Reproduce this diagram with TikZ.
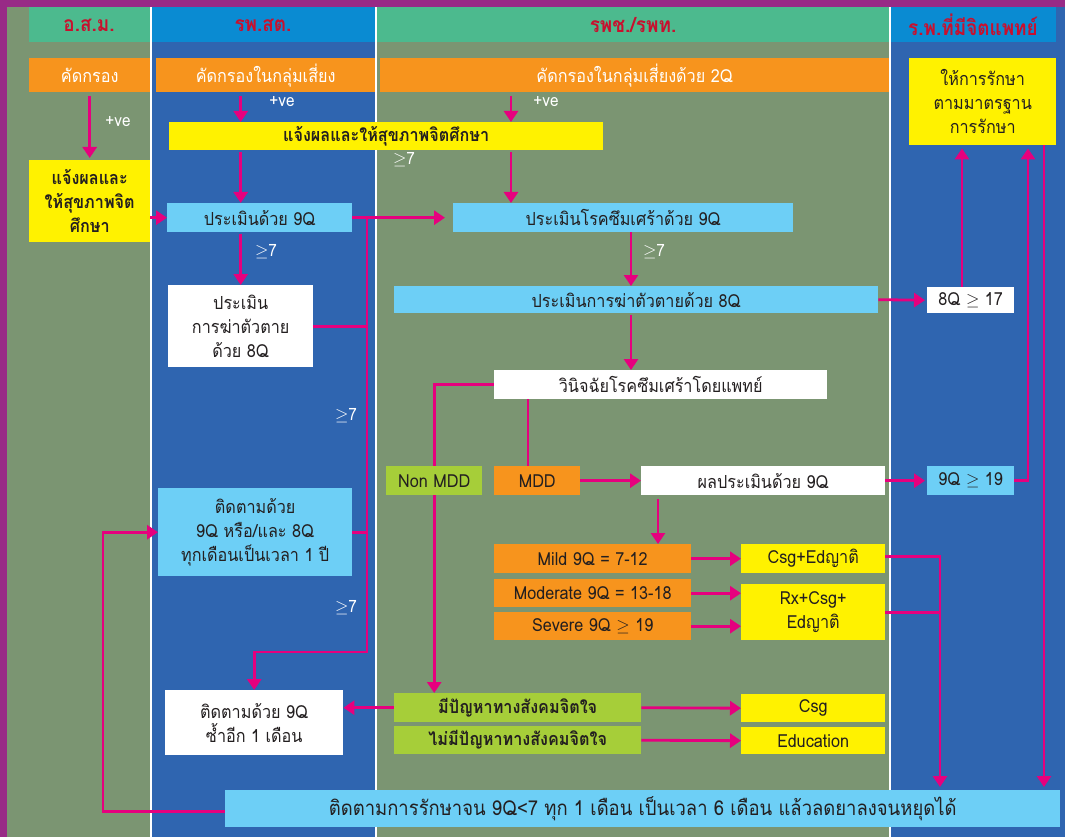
\documentclass[tikz,border=0pt]{standalone}
\usepackage{fontspec}
\newfontfamily\thai[Script=Thai, FakeStretch=0.9]{Loma}
\usetikzlibrary{arrows.meta}
\definecolor{pinkline}{HTML}{E6007E}
\definecolor{orangefill}{HTML}{F7941D}
\definecolor{yellowfill}{HTML}{FFF200}
\definecolor{bluefill}{HTML}{6DCFF6}
\definecolor{greenfill}{HTML}{A6CE39}
\definecolor{olivebg}{HTML}{7B9572}
\definecolor{bluebg}{HTML}{2F65B0}
\definecolor{headgreen}{HTML}{4CBA8E}
\definecolor{headblue}{HTML}{0A8BD2}
\definecolor{headtext}{HTML}{C8102E}
\definecolor{frame}{HTML}{982A86}
\definecolor{darktext}{HTML}{231F20}

\pgfdeclarelayer{back}
\pgfdeclarelayer{wires}
\pgfsetlayers{back,wires,main}

\tikzset{
  box/.style={anchor=north west, inner sep=0pt, align=center,
    font=\thai\fontsize{18}{24}\selectfont, text=darktext},
  boldbox/.style={font=\thai\bfseries\fontsize{18}{24}\selectfont},
  orangebox/.style={box, fill=orangefill},
  yellowbox/.style={box, fill=yellowfill},
  bluebox/.style={box, fill=bluefill},
  whitebox/.style={box, fill=white},
  greenbox/.style={box, fill=greenfill},
  link/.style={draw=pinkline, line width=2.8pt},
  flow/.style={link, -{Triangle[width=14pt,length=11pt]}},
  note/.style={text=white, font=\thai\fontsize{17}{19}\selectfont},
  titletext/.style={font=\thai\bfseries\fontsize{21}{23}\selectfont, text=headtext}
}

\begin{document}
\begin{tikzpicture}[x=1pt, y=-1pt]
  % Columns
  \begin{pgfonlayer}{back}
    \fill[frame] (0,0) rectangle (1065,837);
    \fill[olivebg] (7,7) rectangle (150,837);
    \fill[white] (150,7) rectangle (152,837);
    \fill[bluebg] (152,7) rectangle (375,837);
    \fill[white] (375,7) rectangle (377,837);
    \fill[olivebg] (377,7) rectangle (889,837);
    \fill[white] (889,7) rectangle (891,837);
    \fill[bluebg] (891,7) rectangle (1065,837);
    \fill[headgreen] (29,7) rectangle (150,42);
    \fill[headblue] (152,7) rectangle (375,42);
    \fill[headgreen] (377,7) rectangle (889,42);
    \fill[headblue] (891,7) rectangle (1056,42);
  \end{pgfonlayer}

  % Column titles
  \node[titletext] (title1) at (89,25) {อ.ส.ม.};
  \node[titletext] (title2) at (263,25) {รพ.สต.};
  \node[titletext] (title3) at (633,25) {รพช./รพท.};
  \node[titletext] (title4) at (973,25) {ร.พ.ที่มีจิตแพทย์};

  % Boxes
  \node[orangebox, text=white, minimum width=121pt, minimum height=34pt] (scr1) at (29,58) {คัดกรอง};
  \node[orangebox, text=white, minimum width=219pt, minimum height=34pt] (scr2) at (156,58) {คัดกรองในกลุ่มเสี่ยง};
  \node[orangebox, text=white, minimum width=509pt, minimum height=34pt] (scr3) at (380,58) {คัดกรองในกลุ่มเสี่ยงด้วย 2Q};
  \node[yellowbox, minimum width=147pt, minimum height=87pt] (treat) at (909,58) {ให้การรักษา\\ตามมาตรฐาน\\การรักษา};
  \node[yellowbox, boldbox, minimum width=434pt, minimum height=28pt] (inform) at (169,122) {แจ้งผลและให้สุขภาพจิตศึกษา};
  \node[yellowbox, boldbox, minimum width=121pt, minimum height=82pt] (informvhv) at (29,160) {แจ้งผลและ\\ให้สุขภาพจิต\\ศึกษา};
  \node[bluebox, minimum width=185pt, minimum height=29pt] (eval9) at (167,203) {ประเมินด้วย 9Q};
  \node[bluebox, minimum width=340pt, minimum height=29pt] (evaldep) at (453,203) {ประเมินโรคซึมเศร้าด้วย 9Q};
  \node[whitebox, minimum width=145pt, minimum height=82pt] (eval8) at (168,285) {ประเมิน\\การฆ่าตัวตาย\\ด้วย 8Q};
  \node[bluebox, minimum width=484pt, minimum height=27pt] (evalsui) at (394,286) {ประเมินการฆ่าตัวตายด้วย 8Q};
  \node[whitebox, minimum width=87pt, minimum height=26pt] (suihigh) at (927,287) {8Q $\geq$ 17};
  \node[whitebox, minimum width=333pt, minimum height=29pt] (diag) at (494,370) {วินิจฉัยโรคซึมเศร้าโดยแพทย์};
  \node[greenbox, minimum width=96pt, minimum height=29pt] (nonmdd) at (386,466) {Non MDD};
  \node[orangebox, minimum width=86pt, minimum height=29pt] (mdd) at (494,466) {MDD};
  \node[whitebox, minimum width=244pt, minimum height=29pt] (result) at (641,466) {ผลประเมินด้วย 9Q};
  \node[bluebox, minimum width=87pt, minimum height=29pt] (dephigh) at (927,466) {9Q $\geq$ 19};
  \node[bluebox, minimum width=194pt, minimum height=88pt] (follow1y) at (158,488) {ติดตามด้วย\\9Q หรือ/และ 8Q\\ทุกเดือนเป็นเวลา 1 ปี};
  \node[orangebox, minimum width=197pt, minimum height=29pt] (mild) at (494,544) {Mild 9Q = 7-12};
  \node[orangebox, minimum width=197pt, minimum height=28pt] (moderate) at (494,579) {Moderate 9Q = 13-18};
  \node[orangebox, minimum width=197pt, minimum height=28pt] (severe) at (494,612) {Severe 9Q $\geq$ 19};
  \node[yellowbox, minimum width=144pt, minimum height=29pt] (csged) at (741,544) {Csg+Edญาติ};
  \node[yellowbox, minimum width=144pt, minimum height=56pt] (rxcsg) at (741,584) {Rx+Csg+\\Edญาติ};
  \node[whitebox, minimum width=178pt, minimum height=65pt] (follow1m) at (165,690) {ติดตามด้วย 9Q\\ซ้ำอีก 1 เดือน};
  \node[greenbox, boldbox, minimum width=247pt, minimum height=29pt] (psyyes) at (394,693) {มีปัญหาทางสังคมจิตใจ};
  \node[greenbox, boldbox, minimum width=247pt, minimum height=28pt] (psyno) at (394,726) {ไม่มีปัญหาทางสังคมจิตใจ};
  \node[yellowbox, minimum width=144pt, minimum height=28pt] (csg) at (741,694) {Csg};
  \node[yellowbox, minimum width=144pt, minimum height=27pt] (edu) at (741,727) {Education};
  \node[bluebox, font=\thai\fontsize{20.5}{24}\selectfont, minimum width=835pt, minimum height=37pt] (followend) at (225,790) {ติดตามการรักษาจน 9Q<7 ทุก 1 เดือน เป็นเวลา 6 เดือน แล้วลดยาลงจนหยุดได้};

  % Labels
  \node[note] (pos1) at (118,122) {+ve};
  \node[note] (pos2) at (282,102) {+ve};
  \node[note] (pos3) at (546,102) {+ve};
  \node[note] (ge1) at (404,160) {$\geq$7};
  \node[note] (ge2) at (266,252) {$\geq$7};
  \node[note] (ge3) at (346,416) {$\geq$7};
  \node[note] (ge4) at (346,608) {$\geq$7};
  \node[note] (ge5) at (654,252) {$\geq$7};

  % Turning points
  \coordinate (xa) at (511,0);
  \coordinate (xb) at (631,0);
  \coordinate (xc) at (528,0);
  \coordinate (xd) at (658,0);
  \coordinate (xe) at (940,0);
  \coordinate (xf) at (962,0);
  \coordinate (xg) at (1028,0);
  \coordinate (xh) at (1044,0);
  \coordinate (xi) at (103,0);
  \coordinate (trunk) at (367,0);
  \coordinate (bend) at (367,652);

  % Connectors
  \begin{pgfonlayer}{wires}
    \draw[flow, shorten <=4pt, shorten >=2pt] (scr1) -- (informvhv);
    \draw[flow, shorten <=4pt] (scr2.south -| eval8) -- (inform.north -| eval8);
    \draw[flow, shorten <=4pt] (scr3.south -| xa) -- (inform.north -| xa);
    \draw[flow, shorten <=2pt] (inform.south -| eval8) -- (eval9.north -| eval8);
    \draw[flow, shorten <=2pt] (inform.south -| xa) -- (evaldep.north -| xa);
    \draw[flow] (informvhv.east |- eval9.west) -- (eval9.west);
    \draw[flow, shorten >=8pt] (eval9.east) -- (evaldep.west);
    \draw[flow] (eval9.east -| trunk) -- (bend) -| (follow1m.north);
    \draw[link] (eval8.east) -- (eval8.east -| trunk);
    \draw[link] (follow1y.east) -- (follow1y.east -| trunk);
    \draw[flow, shorten <=2pt] (eval9.south -| eval8) -- (eval8.north);
    \draw[flow] (evaldep.south -| xb) -- (evalsui.north -| xb);
    \draw[flow, shorten <=2pt] (evalsui.south -| xb) -- (diag.north -| xb);
    \draw[flow, shorten >=2pt] (evalsui.east) -- (suihigh.west);
    \draw[flow] (diag.west) -| (nonmdd |- psyyes.north);
    \draw[link] (diag.south -| xc) -- (mdd.north -| xc);
    \draw[flow] (mdd.east) -- (result.west);
    \draw[flow, shorten >=2pt] (result.east) -- (dephigh.west);
    \draw[flow, shorten <=4pt] (result.south -| xd) -- (mild.north -| xd);
    \draw[flow] (mild.east) -- (csged.west);
    \draw[flow] (moderate.east) -- (moderate.east -| rxcsg.west);
    \draw[flow] (severe.east) -- (severe.east -| rxcsg.west);
    \draw[flow, shorten >=3pt] ([yshift=2pt]csged.east) -| (followend.north -| xe);
    \draw[link] (rxcsg.east) -- (rxcsg.east -| xe);
    \draw[flow] (psyyes.east) -- (csg.west);
    \draw[flow] (psyno.east) -- (edu.west);
    \draw[flow] (psyyes.west) -- (psyyes.west -| follow1m.east);
    \draw[flow, shorten >=3pt] (suihigh.north -| xf) -- (treat.south -| xf);
    \draw[flow, shorten >=3pt] (dephigh.east) -| (treat.south -| xg);
    \draw[flow, shorten >=3pt] (treat.south -| xh) -- (followend.north -| xh);
    \draw[flow] ([yshift=-3pt]followend.west) -| (xi |- follow1y.west) -- (follow1y.west);
  \end{pgfonlayer}
\end{tikzpicture}
\end{document}
